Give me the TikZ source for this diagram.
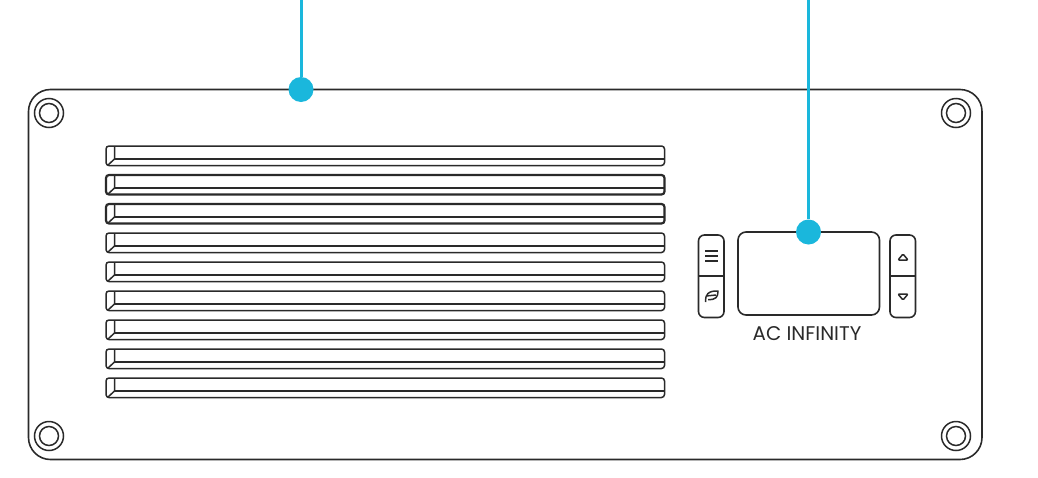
\documentclass[tikz,border=0pt]{standalone}
\usepackage{fontspec}
\setmainfont{Poppins}
\definecolor{leadblue}{HTML}{1AB7DC}
\definecolor{inkline}{HTML}{2A2A2A}
\tikzset{
    outline/.style={draw=inkline, line width=1.6pt, rounded corners=#1},
    outline/.default=3pt,
    thinline/.style={draw=inkline, line width=1.5pt},
    leader/.style={draw=leadblue, line width=3pt},
    dot/.style={circle, fill=leadblue, inner sep=0pt, minimum size=25pt},
}
\begin{document}
\begin{tikzpicture}[x=1pt, y=-1pt]
    \useasboundingbox (0, 0) rectangle (1038, 477);
    \coordinate (panelA) at (28.5, 89.5);
    \coordinate (panelB) at (982, 459.5);
    \draw[outline=22pt] (panelA) rectangle (panelB);
    % screws
    \foreach \x in {49, 956}
        \foreach \y in {113, 436} {
            \draw[thinline] (\x, \y) circle (14.5);
            \draw[thinline] (\x, \y) circle (9.5);
        }
    % slats
    \foreach \y/\w in {146/1.5, 175/2.2, 204/2.2, 233/1.5, 262/1.5, 291/1.5, 320/1.5, 349/1.5, 378/1.5} {
        \draw[outline=3pt, line width=\w pt] (106, \y) rectangle (664.5, \y + 19.5);
        \draw[thinline] (114.5, \y) -- (114.5, \y + 13) -- (107.5, \y + 19.5);
        \draw[thinline] (114.5, \y + 13) -- (664.5, \y + 13);
    }
    % display and buttons
    \coordinate (dispA) at (738, 232);
    \coordinate (dispB) at (879.5, 315);
    \draw[outline=8pt] (dispA) rectangle (dispB);
    \foreach \x in {698.5, 890} {
        \draw[outline=6pt] (\x, 235) rectangle (\x + 25.5, 317.5);
        \draw[thinline] (\x, 276) -- (\x + 25.5, 276);
    }
    \foreach \y in {251, 256, 261}
        \draw[thinline] (705, \y) -- (718, \y);
    % leaf
    \draw[thinline, line join=round]
        (705.5, 302) .. controls (705, 295) and (708, 290.5) .. (718, 291)
        .. controls (718, 297) and (716, 300) .. (708, 299.5);
    \draw[thinline] (706, 296) -- (716, 295);
    \draw[thinline, rounded corners=1pt, line join=round]
        (898, 260) -- (903, 254) -- (908, 260) -- cycle;
    \draw[thinline, rounded corners=1pt, line join=round]
        (898, 294) -- (908, 294) -- (903, 300) -- cycle;
    \node[text=inkline, font=\fontsize{19.8}{22}\selectfont, inner sep=0pt] (brand) at (807, 334) {AC INFINITY};
    % leaders
    \node[dot] (paneldot) at (301, 89.5) {};
    \node[dot] (dispdot) at (808.5, 232) {};
    \coordinate (paneltop) at (301, 0);
    \coordinate (disptop) at (808.5, 0);
    \draw[leader] (paneltop) -- (paneldot);
    \draw[leader] (disptop) -- (dispdot);
\end{tikzpicture}
\end{document}
